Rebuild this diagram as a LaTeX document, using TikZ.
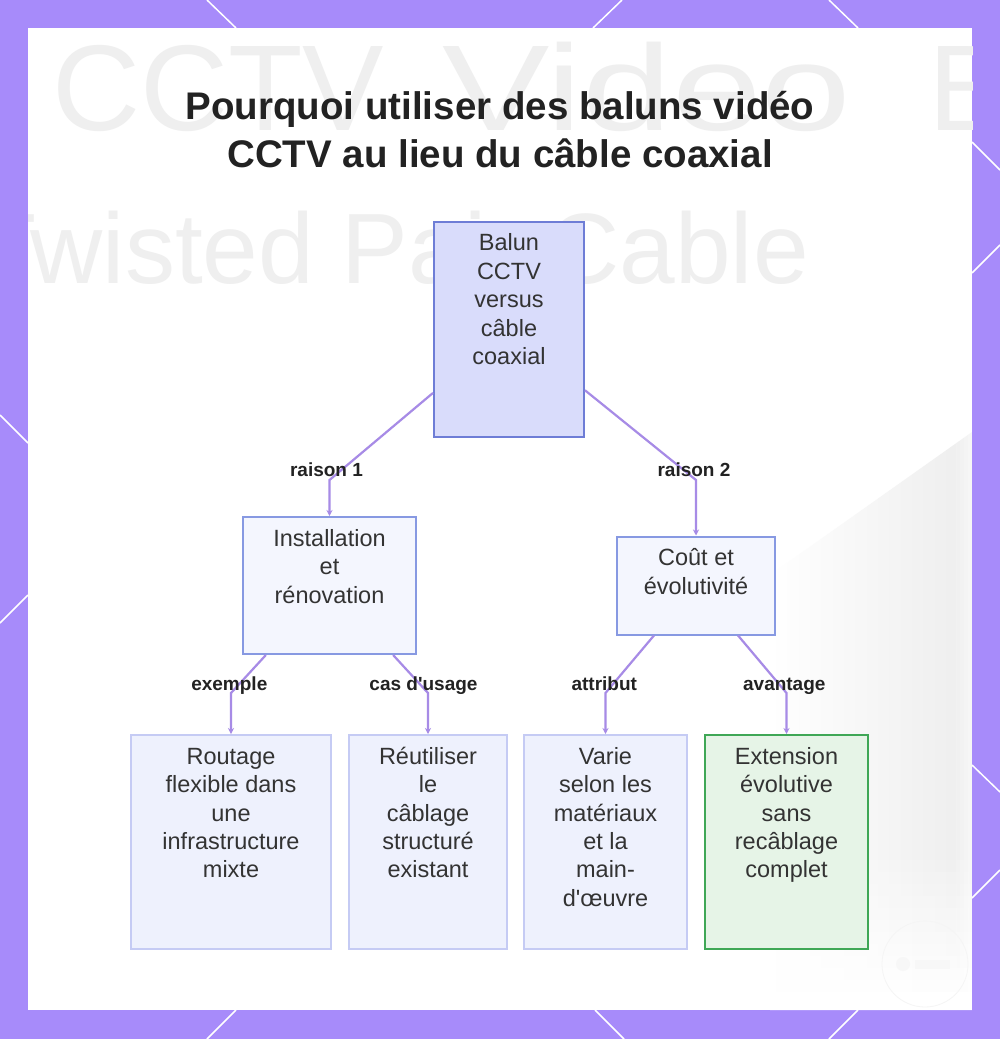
\documentclass[tikz,border=0pt]{standalone}
\usepackage{fontspec}
\setmainfont{Liberation Sans}
\usetikzlibrary{arrows.meta}
\definecolor{frameC}{HTML}{A78BFA}
\definecolor{edgeC}{HTML}{A78BE6}
\definecolor{rootFill}{HTML}{D9DCFB}
\definecolor{rootDraw}{HTML}{6E7DD6}
\definecolor{midFill}{HTML}{F4F6FE}
\definecolor{midDraw}{HTML}{8799E2}
\definecolor{leafFill}{HTML}{EEF1FD}
\definecolor{leafDraw}{HTML}{C5CBF4}
\definecolor{greenFill}{HTML}{E6F4E7}
\definecolor{greenDraw}{HTML}{3FA756}
\definecolor{txtC}{HTML}{333333}
\definecolor{titleC}{HTML}{222222}
\definecolor{wmC}{HTML}{EFEFEF}
\newcommand\topstrut[1]{\rule{0pt}{#1}}
\begin{document}
\begin{tikzpicture}[x=1pt,y=-1pt,
  box/.style={draw, line width=2pt, inner sep=0pt},
  rootbox/.style={box, fill=rootFill, draw=rootDraw},
  midbox/.style={box, fill=midFill, draw=midDraw},
  leafbox/.style={box, fill=leafFill, draw=leafDraw},
  greenbox/.style={box, fill=greenFill, draw=greenDraw},
  boxtext/.style={anchor=north, align=center, inner sep=0pt, text=txtC, font=\fontsize{23.5}{28.4}\selectfont},
  lbl/.style={anchor=base, inner sep=0pt, text=titleC, font=\bfseries\fontsize{19}{23}\selectfont},
  conn/.style={draw=edgeC, line width=2.2pt, -{Stealth[length=6pt,width=6pt]}},
  wm/.style={inner sep=0pt, text=wmC},
  deco/.style={draw=white, line width=1.5pt}
]
\useasboundingbox (0,0) rectangle (1000,1039);
% frame
\fill[frameC] (0,0) rectangle (1000,1039);
\draw[deco] (207,0) -- (236,28);
\draw[deco] (622,0) -- (593,28);
\draw[deco] (829,0) -- (858,28);
\draw[deco] (236,1010) -- (207,1039);
\draw[deco] (595,1010) -- (624,1039);
\draw[deco] (858,1010) -- (829,1039);
\draw[deco] (0,415) -- (28,443);
\draw[deco] (28,595) -- (0,623);
\draw[deco] (972,142) -- (1000,170);
\draw[deco] (972,273) -- (1000,245);
\draw[deco] (972,765) -- (1000,792);
\draw[deco] (972,898) -- (1000,870);
\fill[white] (28,28) rectangle (972,1010);
% background
\begin{scope}
\clip (28,28) rectangle (972,1010);
\shade[left color=white, right color=black!7] (770,575) -- (972,432) -- (972,1010) -- (770,1010) -- cycle;
\foreach \i in {0,...,11} {
  \fill[white, opacity={0.12+0.08*\i}] (760,{860+12*\i}) rectangle (972,{872+12*\i});
}
\fill[white] (760,1004) rectangle (972,1010);
\foreach \i in {0,...,3} {
  \fill[white, opacity={0.15+0.12*\i}] ({956+4*\i},430) rectangle ({960+4*\i},1010);
}
\node[wm, font=\fontsize{122}{122}\selectfont, anchor=base west] (wm1) at (52,130) {CCTV};
\node[wm, font=\fontsize{122}{122}\selectfont, anchor=base west] (wm2) at (442,130) {\scalebox{1.32}[1]{Video}};
\node[wm, font=\fontsize{122}{122}\selectfont, anchor=base west] (wm3) at (928,130) {B};
\node[wm, font=\fontsize{100}{100}\selectfont, anchor=base east] (wm4) at (809,283) {Twisted Pair Cable};
\draw[black!4, line width=0.8pt] (925,964) circle[radius=43];
\fill[black!3] (903,964) circle[radius=7];
\fill[black!3] (915,960) rectangle (950,969);
\end{scope}
% title
\node[anchor=north, align=center, inner sep=0pt, text=titleC, font=\bfseries\fontsize{38.5}{48}\selectfont] (title) at (500,79) {\topstrut{40pt}Pourquoi utiliser des baluns vidéo\\CCTV au lieu du câble coaxial};
% boxes
\node[rootbox, minimum width=150pt, minimum height=215pt] (root) at (509,329) {};
\node[boxtext] (rootT) at (509,228.7) {\topstrut{22pt}Balun\\CCTV\\versus\\câble\\coaxial};
\node[midbox, minimum width=173pt, minimum height=137pt] (inst) at (329.5,585.5) {};
\node[boxtext] (instT) at (329.5,524) {\topstrut{22pt}Installation\\et\\rénovation};
\node[midbox, minimum width=158pt, minimum height=98pt] (cout) at (696,585.5) {};
\node[boxtext] (coutT) at (696,543.5) {\topstrut{22pt}Coût et\\évolutivité};
\node[leafbox, minimum width=200pt, minimum height=214pt] (rout) at (231,842) {};
\node[boxtext] (routT) at (231,742) {\topstrut{22pt}Routage\\flexible dans\\une\\infrastructure\\mixte};
\node[leafbox, minimum width=158pt, minimum height=214pt] (reut) at (428,842) {};
\node[boxtext] (reutT) at (428,742) {\topstrut{22pt}Réutiliser\\le\\câblage\\structuré\\existant};
\node[leafbox, minimum width=163pt, minimum height=214pt] (varie) at (605.5,842) {};
\node[boxtext] (varieT) at (605.5,742) {\topstrut{22pt}Varie\\selon les\\matériaux\\et la\\main-\\d\textquotesingle œuvre};
\node[greenbox, minimum width=163pt, minimum height=214pt] (ext) at (786.5,842) {};
\node[boxtext] (extT) at (786.5,742) {\topstrut{22pt}Extension\\évolutive\\sans\\recâblage\\complet};
% connectors
\coordinate (b1) at (329.5,480);
\coordinate (b2) at (696,480);
\coordinate (b3) at (231,693);
\coordinate (b4) at (428,693);
\coordinate (b5) at (605.5,693);
\coordinate (b6) at (786.5,693);
\draw[conn] (root) -- (b1) -- (inst.north);
\draw[conn] (root) -- (b2) -- (cout.north);
\draw[conn] (inst) -- (b3) -- (rout.north);
\draw[conn] (inst) -- (b4) -- (reut.north);
\draw[conn] (cout) -- (b5) -- (varie.north);
\draw[conn] (cout) -- (b6) -- (ext.north);
% labels
\node[lbl] (l1) at (326.5,476) {raison 1};
\node[lbl] (l2) at (694,476) {raison 2};
\node[lbl] (l3) at (229.3,690) {exemple};
\node[lbl] (l4) at (423.5,690) {cas d\textquotesingle usage};
\node[lbl] (l5) at (604.3,690) {attribut};
\node[lbl] (l6) at (784.3,690) {avantage};
\end{tikzpicture}
\end{document}
